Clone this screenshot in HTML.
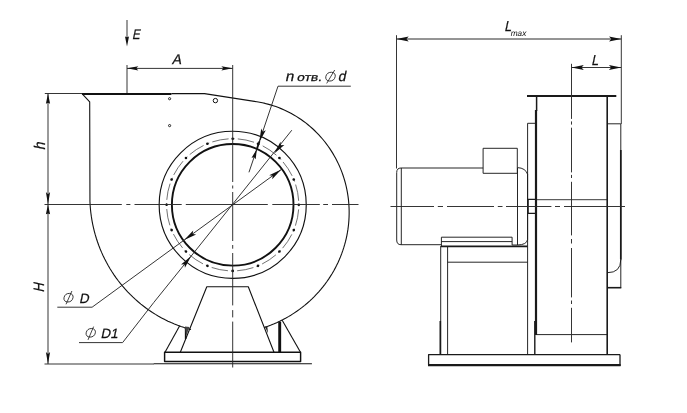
<!DOCTYPE html>
<html><head><meta charset="utf-8"><title>Fan drawing</title>
<style>html,body{margin:0;padding:0;background:#fff;}svg{display:block;will-change:transform;}</style>
</head><body>
<svg width="687" height="413" viewBox="0 0 687 413">
<g fill="none" stroke="#111" stroke-width="1" stroke-linecap="butt" stroke-linejoin="round">
<path d="M171.40,93.60 L204.50,93.60 L256.90,101.80 L259.64,102.26 L262.37,102.80 L265.09,103.41 L267.80,104.10 L270.50,104.86 L273.19,105.69 L275.85,106.60 L278.50,107.57 L281.12,108.62 L283.72,109.74 L286.30,110.93 L288.84,112.19 L291.36,113.52 L293.85,114.92 L296.31,116.39 L298.73,117.93 L301.11,119.53 L303.45,121.20 L305.76,122.93 L308.02,124.73 L310.24,126.59 L312.41,128.51 L314.54,130.49 L316.61,132.53 L318.64,134.63 L320.61,136.79 L322.53,139.00 L324.39,141.27 L326.20,143.59 L327.95,145.96 L329.64,148.38 L331.26,150.85 L332.83,153.37 L334.32,155.93 L335.76,158.53 L337.13,161.18 L338.42,163.87 L339.65,166.60 L340.81,169.36 L341.90,172.16 L342.92,174.99 L343.86,177.86 L344.73,180.75 L345.52,183.67 L346.24,186.62 L346.88,189.59 L347.44,192.58 L347.92,195.59 L348.33,198.62 L348.65,201.66 L348.89,204.71 L349.06,207.78 L349.14,210.86 L349.14,213.94 L349.06,217.03 L348.90,220.12 L348.66,223.21 L348.33,226.30 L347.93,229.39 L347.44,232.46 L346.86,235.53 L346.21,238.59 L345.47,241.64 L344.65,244.67 L343.75,247.69 L342.77,250.68 L341.71,253.66 L340.57,256.61 L339.35,259.53 L338.04,262.43 L336.66,265.29 L335.21,268.13 L333.67,270.93 L332.06,273.69 L330.38,276.41 L328.61,279.10 L326.78,281.74 L324.87,284.33 L322.90,286.88 L320.85,289.38 L318.73,291.83 L316.54,294.23 L314.29,296.57 L311.97,298.85 L309.59,301.08 L307.15,303.25 L304.65,305.36 L302.08,307.40 L299.46,309.38 L296.79,311.29 L294.05,313.13 L291.27,314.91 L288.44,316.61 L285.55,318.24 L282.62,319.80 L279.65,321.28 L276.63,322.68 L273.57,324.01 L270.47,325.25 L267.33,326.42 L264.16,327.50" stroke-width="1.1"/>
<path d="M191.04,329.56 L187.67,328.63 L184.31,327.60 L180.98,326.49 L177.68,325.28 L174.40,323.99 L171.16,322.61 L167.94,321.14 L164.76,319.58 L161.62,317.93 L158.52,316.20 L155.46,314.39 L152.44,312.49 L149.47,310.51 L146.55,308.45 L143.68,306.30 L140.87,304.08 L138.11,301.78 L135.40,299.41 L132.76,296.96 L130.18,294.43 L127.66,291.84 L125.21,289.17 L122.83,286.44 L120.51,283.64 L118.27,280.77 L116.10,277.84 L114.01,274.85 L111.99,271.80 L110.05,268.70 L108.19,265.54 L106.42,262.32 L104.72,259.05 L103.11,255.74 L101.59,252.38 L100.16,248.97 L98.81,245.52 L97.55,242.03 L96.39,238.51 L95.31,234.94 L94.33,231.35 L93.45,227.72 L92.66,224.07 L91.96,220.39 L91.37,216.69 L90.87,212.97 L90.46,209.23 L90.16,205.48 L89.96,201.71 L89.70,101.80 L82.00,93.60" stroke-width="1.1"/>
<path d="M82,93.9 L171.4,93.9" stroke-width="2"/>
<circle cx="169.6" cy="98.7" r="1.1" stroke-width="0.9"/>
<circle cx="169.6" cy="125.6" r="1.1" stroke-width="0.9"/>
<circle cx="215.4" cy="100.6" r="2.2" stroke-width="1"/>
<circle cx="232.7" cy="204.8" r="73.55" stroke-width="1.15"/>
<circle cx="232.7" cy="204.8" r="66.1" stroke="#333" stroke-width="0.7" stroke-dasharray="3 3.2 16.557 3.2" stroke-dashoffset="1.5"/>
<circle cx="232.7" cy="204.8" r="60.8" stroke-width="1.9"/>
<path d="M180.3,352.3 L206.8,286.8 L248.3,286.8 L274.0,352.3" stroke-width="1.1"/>
<path d="M165,352.3 L179.7,325.8" stroke-width="1.1"/>
<path d="M300.5,352.3 L282.2,320.3" stroke-width="1.1"/>
<path d="M279.7,321.7 L279.7,352.3" stroke-width="2.9"/>
<path d="M185.6,327 L185.6,339" stroke-width="1.5"/>
<path d="M185,326.6 L189.5,327 L186.2,336 Z" fill="#444" stroke="none"/>
<path d="M265.0,326.6 L267.3,326.3 L268.0,333.6 Z" fill="#222" stroke="none"/>
<rect x="164.6" y="352.3" width="136" height="9.2" stroke-width="1.45"/>
<path d="M153.8,363.8 L311.9,363.8" stroke-width="1.1"/>
</g>
<g fill="#111">
<circle cx="298.80" cy="204.80" r="1.3"/>
<circle cx="293.77" cy="230.10" r="1.3"/>
<circle cx="279.44" cy="251.54" r="1.3"/>
<circle cx="258.00" cy="265.87" r="1.3"/>
<circle cx="232.70" cy="270.90" r="1.3"/>
<circle cx="207.40" cy="265.87" r="1.3"/>
<circle cx="185.96" cy="251.54" r="1.3"/>
<circle cx="171.63" cy="230.10" r="1.3"/>
<circle cx="166.60" cy="204.80" r="1.3"/>
<circle cx="171.63" cy="179.50" r="1.3"/>
<circle cx="185.96" cy="158.06" r="1.3"/>
<circle cx="207.40" cy="143.73" r="1.3"/>
<circle cx="232.70" cy="138.70" r="1.3"/>
<circle cx="258.00" cy="143.73" r="1.3"/>
<circle cx="279.44" cy="158.06" r="1.3"/>
<circle cx="293.77" cy="179.50" r="1.3"/>
</g>
<g fill="none" stroke="#2a2a2a" stroke-width="0.95">
<path d="M44.5,204.5 L121.8,204.5"/>
<path d="M126.3,204.5 L130.4,204.5"/>
<path d="M134.5,204.5 L181.7,204.5"/>
<path d="M185.8,204.5 L267.8,204.5"/>
<path d="M272.3,204.5 L319.8,204.5"/>
<path d="M323.2,204.5 L328,204.5"/>
<path d="M332,204.5 L358.5,204.5"/>
<path d="M232.7,65 L232.7,182"/>
<path d="M232.7,185.5 L232.7,188.5"/>
<path d="M232.7,192 L232.7,241"/>
<path d="M232.7,245 L232.7,248.7"/>
<path d="M232.7,253 L232.7,305.4"/>
<path d="M232.7,310.1 L232.7,317.4"/>
<path d="M232.7,321.6 L232.7,367.5"/>
<path d="M127,20 L127,40"/>
<path d="M127,65 L127,93"/>
<path d="M127,68.4 L232.7,68.4"/>
<path d="M44.8,93.5 L82,93.5"/>
<path d="M48,93.5 L48,364"/>
<path d="M44.5,364 L154,364"/>
<path d="M350.8,86.2 L278,86.2 L259.19,142.17"/>
<path d="M256.84,149.10 L248.96,172.30"/>
<path d="M291.8,130.2 L191.16,256.09 L153.75,302.5 L122.6,342.6 L79,342.6"/>
<path d="M281.24,169.53 L184.16,240.07 L92.1,307.2 L57.3,307.2"/>
</g>
<path d="M259.52,141.22 L256.84,149.10" stroke="#111" stroke-width="1.8" fill="none"/>
<g>
<polygon points="127.00,46.50 125.00,36.50 127.00,37.30 129.00,36.50" fill="#111"/>
<polygon points="127.00,68.30 138.30,66.20 136.30,68.30 138.30,70.40" fill="#111"/>
<polygon points="232.70,68.30 221.40,70.40 223.40,68.30 221.40,66.20" fill="#111"/>
<polygon points="48.00,93.50 50.10,103.80 48.00,102.80 45.90,103.80" fill="#111"/>
<polygon points="48.00,204.50 45.90,192.00 48.00,194.20 50.10,192.00" fill="#111"/>
<polygon points="48.00,204.50 50.10,214.30 48.00,213.50 45.90,214.30" fill="#111"/>
<polygon points="48.00,364.00 45.90,352.00 48.00,354.00 50.10,352.00" fill="#111"/>
<polygon points="259.19,142.17 261.26,128.62 262.73,131.76 265.81,130.16" fill="#111"/>
<polygon points="256.84,149.10 255.71,159.28 254.11,157.15 251.54,157.87" fill="#111"/>
<polygon points="274.24,153.51 280.47,141.83 280.84,145.35 284.36,144.98" fill="#111"/>
<polygon points="191.16,256.09 184.93,267.77 184.56,264.25 181.04,264.62" fill="#111"/>
<polygon points="281.24,169.53 272.19,179.20 272.75,175.70 269.25,175.15" fill="#111"/>
<polygon points="184.16,240.07 193.21,230.40 192.65,233.90 196.15,234.45" fill="#111"/>
</g>
<g fill="none" stroke="#1a1a1a" stroke-width="0.95" stroke-linejoin="round">
<path d="M441.4,244.7 L401,244.7 Q396.7,244.7 396.7,240 L396.7,172.5 Q396.7,168 401,168 L483.1,168"/>
<path d="M401.3,168 L401.3,244.7"/>
<rect x="483.1" y="148.3" width="34.2" height="25.0"/>
<path d="M517.5,168 L517.5,245"/>
<path d="M517.5,167.6 Q525.5,168 527.6,174.3 L527.6,239.5 Q526.8,244.8 517.5,245 L512.1,245 L512.1,237.2 L441.4,237.2 L441.4,246"/>
<path d="M441.4,241.6 L512.1,241.6"/>
<path d="M441,246.3 L527.5,246.3" stroke-width="1.8"/>
<path d="M440.7,246 L440.7,354.5"/>
<path d="M440.3,321 L440.3,354.5" stroke-width="1.6"/>
<path d="M447.6,247 L447.6,354.5"/>
<path d="M447.6,262.2 L527.5,262.2"/>
<path d="M527.6,123.3 L527.6,354.5"/>
<path d="M527.6,123.3 L536.5,123.3"/>
<path d="M527,96 L616.3,96" stroke-width="2"/>
<path d="M536.6,96 L536.6,111" stroke-width="1.5"/>
<path d="M536.0,110 L536.0,335" stroke-width="2.2"/>
<path d="M534.8,321 L534.8,354.5" stroke-width="1.4"/>
<path d="M607.2,96 L607.2,354.5" stroke-width="1.6"/>
<path d="M536.3,334.6 L607.2,334.6"/>
<path d="M536.3,199.7 L607.2,199.7" stroke="#222" stroke-width="0.9"/>
<rect x="528.1" y="199.3" width="7.7" height="14.1" stroke-width="1.3"/>
<path d="M607.2,123.8 L620.8,123.8"/>
<path d="M620.8,150 L620.8,259.6" stroke-width="1.7"/>
<path d="M620.8,123.8 L620.8,287.7"/>
<path d="M620.8,259.6 Q620.8,272.7 607.4,272.7"/>
<path d="M607.2,287.7 L621.3,287.7" stroke-width="1.6"/>
<path d="M620,354.6 L428.6,354.6 L428.6,365 " stroke-width="1.3"/>
<path d="M620,354.5 L620,366" stroke-width="1.3"/>
<path d="M428,365.1 L620.6,365.1" stroke-width="2.2"/>
</g>
<g fill="none" stroke="#2a2a2a" stroke-width="0.95">
<path d="M390.5,206.5 L434,206.5"/>
<path d="M437.8,206.5 L443,206.5"/>
<path d="M447,206.5 L494,206.5"/>
<path d="M497.8,206.5 L502.5,206.5"/>
<path d="M506,206.5 L551.4,206.5"/>
<path d="M555,206.5 L560,206.5"/>
<path d="M564,206.5 L625,206.5"/>
<path d="M571.5,63.8 L571.5,118.9"/>
<path d="M571.5,121.4 L571.5,124.6"/>
<path d="M571.5,127.7 L571.5,172.4"/>
<path d="M571.5,174.9 L571.5,178"/>
<path d="M571.5,181.8 L571.5,235.4"/>
<path d="M571.5,239 L571.5,243.5"/>
<path d="M571.5,248 L571.5,297.4"/>
<path d="M571.5,300.5 L571.5,304"/>
<path d="M571.5,307.8 L571.5,342.4"/>
<path d="M396.5,35.2 L396.5,168.5"/>
<path d="M621.3,35.2 L621.3,124"/>
<path d="M396.5,39.0 L621.3,39.0" stroke-width="1"/>
<path d="M571.5,67.5 L621.2,67.5"/>
</g>
<g>
<polygon points="396.40,39.00 408.70,36.60 406.40,39.00 408.70,41.40" fill="#111"/>
<polygon points="621.30,39.00 609.00,41.40 611.30,39.00 609.00,36.60" fill="#111"/>
<polygon points="571.50,67.50 583.80,65.10 581.50,67.50 583.80,69.90" fill="#111"/>
<polygon points="621.20,67.50 608.90,69.90 611.20,67.50 608.90,65.10" fill="#111"/>
</g>
<g font-family="'Liberation Sans', sans-serif" fill="#111" stroke="#111" stroke-width="0.25">
<text transform="translate(132.0,39.3) skewX(-12) scale(0.82,1)" font-size="14" >E</text>
<text transform="translate(171.8,64.4) skewX(-12) scale(1,1)" font-size="14" >A</text>
<text transform="translate(285.0,80.6) skewX(-12) scale(1.08,1)" font-size="14" >n</text>
<text transform="translate(296.6,80.6) skewX(-12) scale(1,1)" font-size="11" textLength="25" lengthAdjust="spacingAndGlyphs">отв.</text>
<text transform="translate(337.8,80.6) skewX(-12) scale(1,1)" font-size="14" >d</text>
<text transform="translate(44.6,150.2) rotate(-90) skewX(-12) scale(0.9,1)" font-size="15.5">h</text>
<text transform="translate(44.3,292.6) rotate(-90) skewX(-12) scale(0.86,1)" font-size="15">H</text>
<text transform="translate(79,302.8) skewX(-12) scale(1,1)" font-size="13.4" >D</text>
<text transform="translate(100.6,337.6) skewX(-12) scale(1,1)" font-size="13.4" >D1</text>
<text transform="translate(504.3,31) skewX(-12) scale(0.86,1)" font-size="14.5" >L</text>
<text transform="translate(510.2,36.0) skewX(-12) scale(1,1)" font-size="8.3" stroke-width="0">max</text>
<text transform="translate(591.2,64.5) skewX(-12) scale(0.86,1)" font-size="14.5" >L</text>
</g>
<g fill="none" stroke="#222" stroke-width="0.85"><ellipse transform="translate(68.5,297.7) skewX(-12)" cx="0" cy="0" rx="4.5" ry="4.3"/><path d="M66.0,304.3 L71.9,291.0"/></g>
<g fill="none" stroke="#222" stroke-width="0.85"><ellipse transform="translate(90.75,332.8) skewX(-12)" cx="0" cy="0" rx="4.6" ry="4.3"/><path d="M88.0,339.9 L93.6,326.6"/></g>
<g fill="none" stroke="#222" stroke-width="0.85"><ellipse transform="translate(330.5,76.65) skewX(-12)" cx="0" cy="0" rx="4.7" ry="4.4"/><path d="M326.7,83.4 L334.7,70.0"/></g>
</svg>
</body></html>
